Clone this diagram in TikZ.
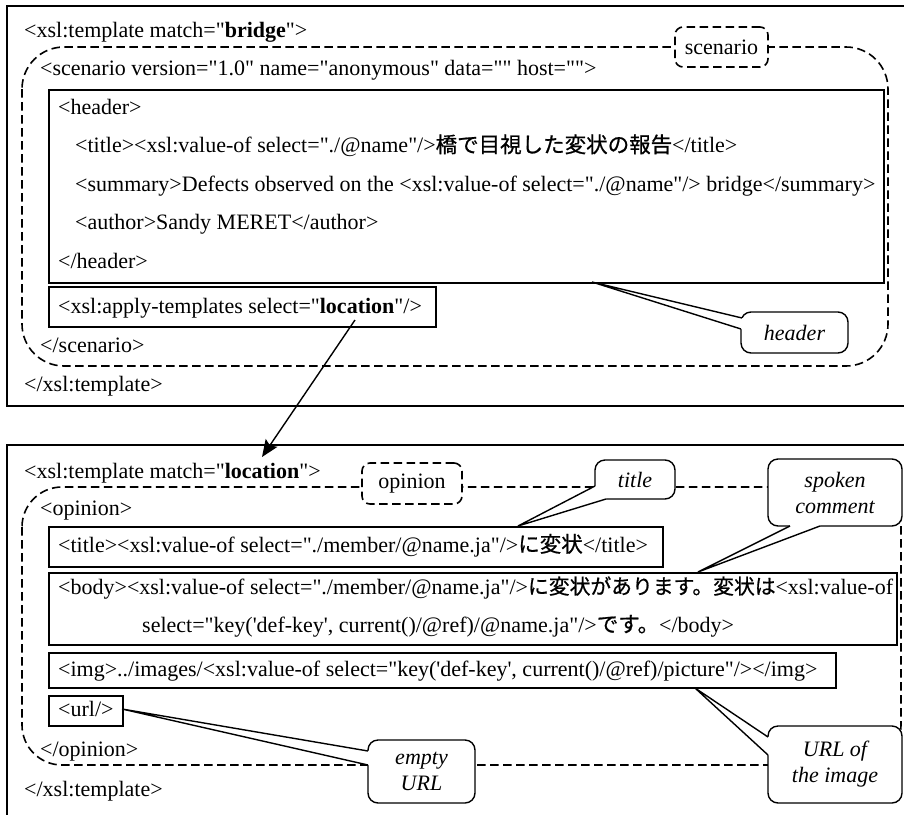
\documentclass[tikz,border=0pt]{standalone}
\usepackage{fontspec}
\setmainfont{Liberation Serif}[Ligatures=TeXOff]
\newfontfamily\jafont{Noto Sans CJK JP}[FakeBold=0.8]
\newcommand{\ja}[1]{{\jafont\fontsize{21.5}{26}\selectfont #1}}
\newcommand{\jas}[1]{{\jafont\fontsize{20.8}{26}\selectfont #1}}
\usetikzlibrary{arrows.meta,calc}
% callout pointer: tip, first base point, two inner points, second base point
\newcommand{\pointer}[5]{%
  \fill[white] #1 -- #2 -- #3 -- #4 -- #5 -- cycle;
  \draw[ptr] #2 -- #1 -- #5;}
\begin{document}
\begin{tikzpicture}[x=1pt,y=-1pt,
  every node/.style={inner sep=0pt, font=\fontsize{22}{26}\selectfont},
  code/.style={anchor=base west},
  frame/.style={line width=2.2pt},
  solidbox/.style={draw, line width=1.9pt, anchor=north west},
  dashbox/.style={draw, line width=1.6pt, dash pattern=on 8.5pt off 4.5pt},
  tagbox/.style={dashbox, fill=white, rounded corners=8pt},
  callbox/.style={draw, fill=white, line width=1.4pt, rounded corners=10pt,
    align=center, font=\fontsize{22}{26}\selectfont\itshape},
  ptr/.style={line width=1.4pt, line join=miter},
]
\useasboundingbox (0,0) rectangle (904,814);

% ---------- template "bridge" ----------
\draw[frame] (904,6) -- (7,6) -- (7,406) -- (904,406);
\draw[dashbox, rounded corners=42pt] (22,47) rectangle (888,366);
\node[tagbox, minimum width=93, minimum height=40] (scentag) at (721.5,47) {scenario};

\node[solidbox, minimum width=835, minimum height=193] (hdrbox) at (48,89) {};
\node[solidbox, minimum width=387, minimum height=40] (applybox) at (48,286) {};

\node[code] (b1) at (24,37) {<xsl:template match="\textbf{bridge}">};
\node[code] (b2) at (40,75.5) {<scenario version="1.0" name="anonymous" data="" host="">};
\node[code] (b3) at (58,114) {<header>};
\node[code] (b4) at (75,152.5) {<title><xsl:value-of select="./@name"/>\ja{橋で目視した変状の報告}</title>};
\node[code] (b5) at (75,191) {<summary>Defects observed on the <xsl:value-of select="./@name"/> bridge</summary>};
\node[code] (b6) at (75,229.5) {<author>Sandy MERET</author>};
\node[code] (b7) at (58,268) {</header>};
\node[code] (b8) at (58,313) {<xsl:apply-templates select="\textbf{location}"/>};
\node[code] (b9) at (40,352) {</scenario>};
\node[code] (b10) at (24,391) {</xsl:template>};

% ---------- template "location" ----------
\draw[frame] (904,445) -- (7,445) -- (7,820);
\draw[dashbox, rounded corners=40pt] (22,487) rectangle (901,765);
\node[tagbox, minimum width=100, minimum height=41] (opintag) at (412,483.5) {opinion};

\node[solidbox, minimum width=614, minimum height=40] (ttlbox) at (48,526) {};
\node[solidbox, minimum width=848, minimum height=72] (bodybox) at (48,572) {};
\node[solidbox, minimum width=787, minimum height=35] (imgbox) at (48,652) {};
\node[solidbox, minimum width=74, minimum height=30] (urlbox) at (48,695) {};

\node[code] (l1) at (24,478) {<xsl:template match="\textbf{location}">};
\node[code] (l2) at (40,515) {<opinion>};
\node[code] (l3) at (58,552) {<title><xsl:value-of select="./member/@name.ja"/>\ja{に変状}</title>};
\node[code] (l4) at (58,594) {<body><xsl:value-of select="./member/@name.ja"/>\jas{に変状があります。変状は}<xsl:value-of};
\node[code] (l5) at (142,632) {select="key('def-key', current()/@ref)/@name.ja"/>\ja{です。}</body>};
\node[code] (l6) at (58,676) {<img>../images/<xsl:value-of select="key('def-key', current()/@ref)/picture"/></img>};
\node[code] (l7) at (58,716) {<url/>};
\node[code] (l8) at (40,756) {</opinion>};
\node[code] (l9) at (24,796) {</xsl:template>};

% ---------- callouts ----------
\node[callbox, minimum width=107, minimum height=41] (hdrc) at (794.5,332.5) {header};
\pointer{(592,282)}{(742,318)}{(747,318)}{(747,329)}{(741,329)}

\node[callbox, minimum width=80, minimum height=39] (ttlc) at (635,479.5) {title};
\pointer{(518,526)}{(595,486)}{(600,486)}{(606,494)}{(606,499)}

\node[callbox, minimum width=134, minimum height=67] (spkc) at (835,492.5) {spoken\\comment};
\pointer{(698,572)}{(790,526)}{(790,522)}{(820,522)}{(820,526)}

\node[callbox, minimum width=107, minimum height=63] (urlc) at (421.5,771.5) {empty\\URL};
\pointer{(122,709)}{(368,751)}{(373,751)}{(373,765)}{(368,765)}

\node[callbox, minimum width=134, minimum height=77] (imgc) at (835,764.5) {URL of\\the image};
\pointer{(695,688)}{(768,737)}{(773,737)}{(773,755)}{(768,755)}

% ---------- apply-templates link ----------
\coordinate (linkfrom) at (355,320);
\coordinate (linkto) at (262,457);
\draw[line width=1.4pt, -{Stealth[length=17pt,width=14pt,inset=3pt]}] (linkfrom) -- (linkto);
\end{tikzpicture}
\end{document}
